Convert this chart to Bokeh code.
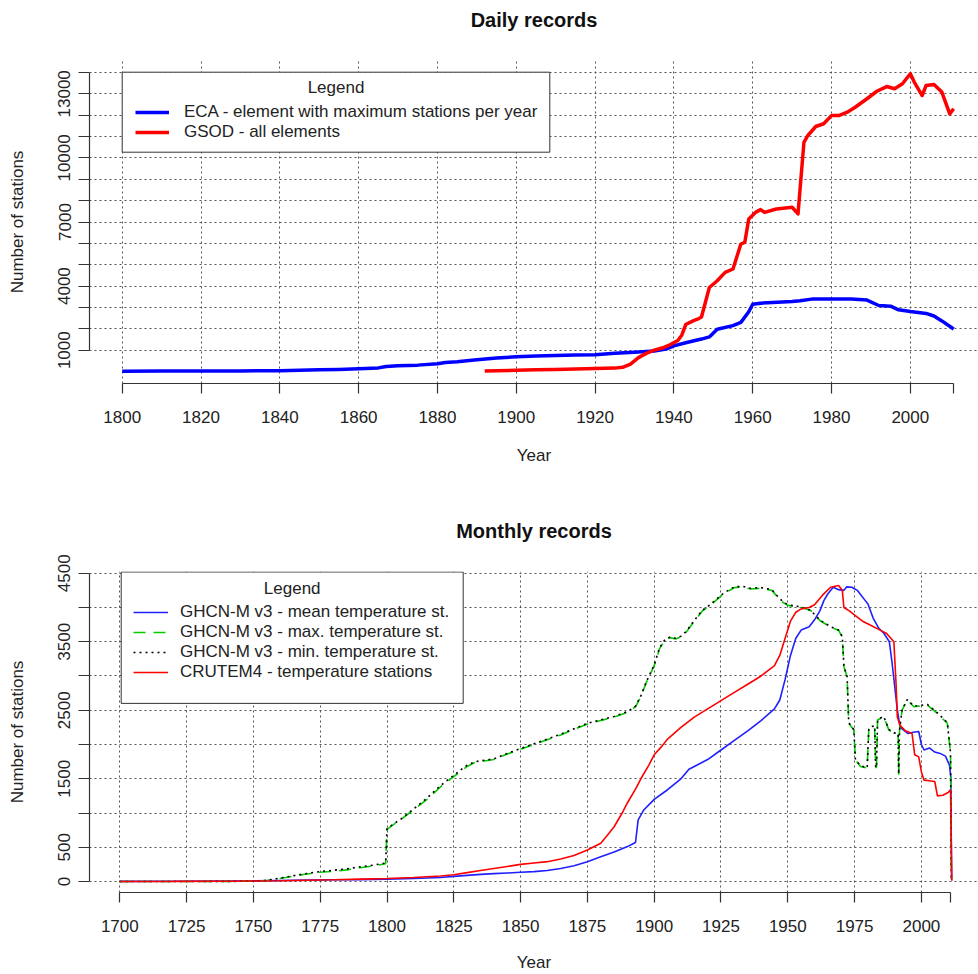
from bokeh.plotting import figure
from bokeh.models import (Range1d, FixedTicker, Legend, LegendItem, BoxAnnotation, Label,
                          LinearAxis)
from bokeh.layouts import column
from bokeh.embed import file_html
from bokeh.resources import INLINE

FONT = "Liberation Sans"

# ---------------- Daily records ----------------
eca_year = [1800, 1810, 1820, 1830, 1840, 1845, 1850, 1855, 1860, 1865, 1867, 1870, 1875, 1880,
            1882, 1885, 1890, 1895, 1900, 1905, 1910, 1915, 1920, 1925, 1930, 1935, 1938, 1940,
            1943, 1947, 1949, 1951, 1955, 1957, 1959, 1960, 1962, 1965, 1970, 1972, 1975, 1980,
            1985, 1989, 1992, 1995, 1997, 2000, 2004, 2006, 2008, 2011]
eca_val = [15, 20, 25, 30, 40, 55, 80, 100, 130, 170, 240, 270, 300, 360,
           420, 460, 550, 630, 690, 730, 750, 770, 790, 860, 900, 960, 1050, 1200,
           1350, 1520, 1620, 1980, 2150, 2300, 2800, 3150, 3200, 3230, 3280, 3310, 3390, 3400,
           3390, 3345, 3090, 3060, 2890, 2810, 2720, 2600, 2370, 1990]

gsod_year = [1892, 1895, 1900, 1905, 1910, 1915, 1920, 1925, 1927, 1929, 1931, 1933, 1935, 1937,
             1939, 1941, 1942, 1943, 1945, 1946, 1947, 1949, 1951, 1953, 1955, 1957, 1958, 1959,
             1960.7, 1962, 1963, 1966, 1970, 1971.5, 1973, 1974, 1976, 1978, 1980, 1982, 1984,
             1986, 1989, 1991.5, 1994, 1996, 1998, 2000, 2001, 2003, 2004, 2006, 2008, 2010, 2011]
gsod_val = [30, 40, 60, 80, 100, 120, 140, 160, 200, 350, 650, 850, 1000, 1100,
            1250, 1450, 1700, 2200, 2380, 2450, 2550, 3935, 4250, 4640, 4800, 5970, 6050, 7140,
            7450, 7580, 7450, 7610, 7690, 7380, 10730, 11050, 11470, 11600, 11980, 11990, 12140,
            12370, 12770, 13120, 13340, 13240, 13470, 13940, 13550, 12920, 13390, 13440, 13080, 12060, 12300]

daily_xticks = [1800, 1820, 1840, 1860, 1880, 1900, 1920, 1940, 1960, 1980, 2000, 2011]
daily_yticks = [1000, 2000, 3000, 4000, 5000, 6000, 7000, 8000, 9000, 10000, 11000, 12000, 13000, 14000]
daily_ylabels = [1000, 4000, 7000, 10000, 13000]

# ---------------- Monthly records ----------------
mean_year = [1700, 1720, 1740, 1750, 1760, 1770, 1780, 1790, 1800, 1810, 1820, 1825, 1830, 1835,
             1840, 1845, 1850, 1855, 1860, 1865, 1870, 1875, 1880, 1885, 1890, 1893, 1894, 1896,
             1900, 1905, 1910, 1913, 1915, 1920, 1925, 1930, 1935, 1940, 1945, 1947, 1949, 1951,
             1953, 1955, 1958, 1960, 1962, 1963.5, 1965, 1967, 1969, 1971, 1972, 1974, 1976, 1977,
             1979, 1980, 1982, 1984, 1986, 1988, 1989, 1990, 1991, 1992, 1993, 1995, 1997, 1999,
             2000, 2001, 2003, 2005, 2007, 2009, 2010.5, 2011, 2011.3]
mean_val = [3, 5, 8, 10, 15, 20, 25, 28, 35, 45, 60, 75, 90, 105,
            115, 125, 135, 145, 160, 190, 230, 290, 360, 430, 510, 570, 900, 1040,
            1200, 1340, 1500, 1640, 1680, 1780, 1920, 2060, 2200, 2350, 2520, 2650, 2950, 3300,
            3550, 3670, 3720, 3820, 3950, 4100, 4200, 4295, 4260, 4250, 4300, 4295, 4250, 4200,
            4100, 4050, 3840, 3700, 3620, 3500, 3200, 2850, 2500, 2260, 2220, 2160, 2180, 2190,
            2000, 1920, 1950, 1890, 1870, 1830, 1700, 1530, 30]

max_year = [1700, 1740, 1750, 1755, 1760, 1765, 1770, 1775, 1780, 1785, 1790, 1795, 1799.5, 1800,
            1802, 1805, 1810, 1815, 1820, 1825, 1830, 1833, 1840, 1845, 1850, 1855, 1860, 1865,
            1870, 1875, 1880, 1885, 1890, 1893, 1895, 1897, 1900, 1902, 1904, 1906, 1908, 1910,
            1912, 1915, 1918, 1920, 1923, 1926, 1930, 1933, 1936, 1940, 1944, 1946, 1948, 1950,
            1954.7, 1958.5, 1962, 1966, 1969, 1970.4, 1971, 1972.2, 1972.8, 1974.7, 1975.3, 1977.2,
            1979.7, 1980.3, 1981, 1982.5, 1982.9, 1983.2, 1983.6, 1985.9, 1987.8, 1989.7, 1991.3,
            1991.5, 1991.8, 1992.8, 1994.7, 1997.2, 2002.2, 2005.9, 2009.7, 2010.9, 2011.2]
max_val = [0, 2, 5, 15, 45, 80, 110, 135, 150, 170, 200, 230, 260, 760,
           820, 900, 1050, 1200, 1380, 1530, 1680, 1740, 1780, 1860, 1930, 2000, 2070, 2140,
           2220, 2300, 2350, 2400, 2470, 2550, 2700, 2900, 3150, 3400, 3520, 3560, 3540, 3570,
           3640, 3800, 3950, 4000, 4100, 4200, 4290, 4300, 4270, 4280, 4250, 4160, 4080, 4030,
           4005, 3957, 3810, 3714, 3666, 3569, 3133, 2987, 2310, 2213, 1777, 1680,
           1656, 2213, 2250, 2261, 1656, 1680, 2358, 2406, 2213, 2165, 2150,
           1559, 2200, 2504, 2649, 2551, 2576, 2456, 2310, 1874, 33]
min_val = [0, 2, 5, 18, 50, 85, 118, 145, 165, 185, 215, 240, 270, 770,
           830, 905, 1060, 1220, 1400, 1550, 1700, 1750, 1790, 1870, 1940, 2010, 2080, 2150,
           2230, 2310, 2360, 2410, 2480, 2560, 2710, 2910, 3160, 3410, 3530, 3570, 3550, 3580,
           3650, 3810, 3960, 4010, 4110, 4210, 4300, 4310, 4280, 4290, 4260, 4170, 4090, 4040,
           4010, 3960, 3815, 3720, 3670, 3575, 3140, 2990, 2320, 2220, 1780, 1690,
           1660, 2220, 2260, 2270, 1660, 1690, 2365, 2410, 2220, 2170, 2160,
           1565, 2210, 2510, 2655, 2560, 2585, 2465, 2320, 1880, 30]

cru_year = [1700, 1720, 1740, 1750, 1760, 1770, 1780, 1790, 1800, 1810, 1820, 1825, 1830, 1835,
            1840, 1845, 1850, 1855, 1860, 1865, 1870, 1875, 1880, 1883, 1885, 1888, 1890, 1893,
            1895, 1898, 1900, 1903, 1905, 1910, 1915, 1920, 1925, 1930, 1935, 1940, 1945, 1947,
            1949, 1951, 1953, 1955, 1958, 1960, 1963, 1966, 1969, 1970.4, 1971, 1973, 1976, 1978,
            1981, 1984, 1987, 1989.7, 1990.5, 1991, 1992, 1994, 1996.5, 1997.5, 1999, 2000, 2001,
            2003, 2005, 2006, 2008, 2010, 2010.9, 2011.4]
cru_val = [0, 2, 5, 8, 12, 18, 25, 35, 45, 60, 80, 100, 130, 160,
           190, 220, 250, 270, 290, 330, 380, 460, 560, 700, 800, 1000, 1150, 1350,
           1500, 1700, 1850, 1980, 2080, 2250, 2400, 2520, 2640, 2760, 2880, 3000, 3150, 3300,
           3550, 3800, 3930, 3980, 4000, 4040, 4180, 4295, 4320, 4250, 4000, 3950, 3860, 3800,
           3740, 3680, 3620, 3500, 2900, 2400, 2280, 2200, 2160, 1850, 1820, 1600, 1480,
           1470, 1460, 1250, 1260, 1300, 1340, 10]

monthly_xticks = [1700, 1725, 1750, 1775, 1800, 1825, 1850, 1875, 1900, 1925, 1950, 1975, 2000, 2011]
monthly_yticks = [0, 500, 1000, 1500, 2000, 2500, 3000, 3500, 4000, 4500]
monthly_ylabels = [0, 500, 1500, 2500, 3500, 4500]

# ---------------- layout constants (pixels) ----------------
FRAME_L, FRAME_R = 89, 978
H1, H2 = 472, 502
F1_TOP, F1_BOT = 60, 383          # frame of first plot (page px)
F2_TOP, F2_BOT = 571, 893         # frame of second plot (page px)
X1_RANGE, Y1_RANGE = (1791.7, 2017.3), (-560, 14560)
X2_RANGE, Y2_RANGE = (1688.66, 2021.37), (-160, 4525)


def px_to_data(px, py, ftop, fbot, xr, yr):
    x = xr[0] + (px - FRAME_L) * (xr[1] - xr[0]) / (FRAME_R - FRAME_L)
    y = yr[1] - (py - ftop) * (yr[1] - yr[0]) / (fbot - ftop)
    return x, y


def make_fig(title, title_standoff, height, top, bottom, xr, yr, xticks, yticks, ylabels,
             label_standoff, xlabel_standoff):
    p = figure(width=978, height=height, output_backend="svg", toolbar_location=None,
               x_range=Range1d(*xr), y_range=Range1d(*yr),
               min_border_left=FRAME_L, min_border_right=0, min_border_top=top,
               min_border_bottom=bottom)
    p.outline_line_color = None
    p.background_fill_color = "white"
    p.border_fill_color = "white"
    xa = p.below[0]
    ya = p.left[0]
    for ax in (xa, ya):
        ax.axis_line_color = "#333333"
        ax.axis_line_width = 1.2
        ax.major_tick_line_color = "#333333"
        ax.major_tick_line_width = 1.2
        ax.major_tick_in = 0
        ax.minor_tick_line_color = None
        ax.major_label_text_font = FONT
        ax.major_label_text_font_size = "17px"
        ax.major_label_text_color = "#222222"
        ax.axis_label_text_font = FONT
        ax.axis_label_text_font_size = "17px"
        ax.axis_label_text_font_style = "normal"
        ax.axis_label_text_color = "#222222"
    xa.ticker = FixedTicker(ticks=xticks)
    xa.major_label_overrides = {xticks[-1]: ""}
    xa.bounds = (xticks[0], xticks[-1])
    xa.major_tick_out = 10
    xa.major_label_standoff = label_standoff
    xa.axis_label = "Year"
    xa.axis_label_standoff = xlabel_standoff
    ya.ticker = FixedTicker(ticks=yticks)
    ya.major_label_overrides = {t: ("" if t not in ylabels else str(t)) for t in yticks}
    ya.bounds = (yticks[0], yticks[-1])
    ya.major_tick_out = 11
    ya.major_label_orientation = "vertical"
    ya.major_label_standoff = 8
    ya.axis_label = "Number of stations"
    ya.axis_label_standoff = 29
    p.xgrid.ticker = FixedTicker(ticks=xticks[:-1])
    p.ygrid.ticker = FixedTicker(ticks=yticks)
    for g in (p.xgrid[0], p.ygrid[0]):
        g.grid_line_color = "#555555"
        g.grid_line_dash = "2 3"
        g.grid_line_width = 1
    # main title: drawn as the label of a bare axis above the frame
    title_axis = LinearAxis(ticker=FixedTicker(ticks=[]), axis_label=title,
                            axis_line_color=None, major_tick_line_color=None,
                            minor_tick_line_color=None, major_label_text_font_size="0px",
                            major_tick_out=0, major_tick_in=0, major_label_standoff=0,
                            axis_label_standoff=title_standoff,
                            axis_label_text_font=FONT, axis_label_text_font_size="20px",
                            axis_label_text_font_style="bold", axis_label_text_color="#111111")
    p.add_layout(title_axis, "above")
    return p


def add_legend(p, items, box_px, title_px, loc, glyph_w, standoff, ftop, fbot, xr, yr):
    l, t = px_to_data(box_px[0], box_px[1], ftop, fbot, xr, yr)
    r, b = px_to_data(box_px[2], box_px[3], ftop, fbot, xr, yr)
    p.add_layout(BoxAnnotation(left=l, right=r, top=t, bottom=b, fill_color="white",
                               fill_alpha=1.0, line_color="#333333", line_width=1, line_alpha=1.0))
    tx, ty = px_to_data(title_px[0], title_px[1], ftop, fbot, xr, yr)
    p.add_layout(Label(x=tx, y=ty, text="Legend", text_align="center", text_baseline="middle",
                       text_font=FONT, text_font_size="17px", text_color="#222222"))
    leg = Legend(items=items, location=loc, margin=0, padding=0, spacing=0,
                 glyph_width=glyph_w, glyph_height=20, label_height=20, label_standoff=standoff,
                 border_line_color=None, background_fill_alpha=0.0)
    leg.label_text_font = FONT
    leg.label_text_font_size = "17px"
    leg.label_text_color = "#222222"
    p.add_layout(leg)


# Daily
p1 = make_fig("Daily records", 30, H1, F1_TOP, H1 - F1_BOT,
              X1_RANGE, Y1_RANGE, daily_xticks, daily_yticks, daily_ylabels, 17, 20)
r_eca = p1.line(eca_year, eca_val, line_color="#0000FF", line_width=3.5, line_join="round")
r_gsod = p1.line(gsod_year, gsod_val, line_color="#FF0000", line_width=3.5, line_join="round")
add_legend(p1, [LegendItem(label="ECA - element with maximum stations per year", renderers=[r_eca]),
                LegendItem(label="GSOD - all elements", renderers=[r_gsod])],
           (121.7, 71.7, 549.3, 151.7), (335.5, 86.7), (46, 241), 34, 15,
           F1_TOP, F1_BOT, X1_RANGE, Y1_RANGE)

# Monthly
p2 = make_fig("Monthly records", 30, H2, F2_TOP - H1, H2 - (F2_BOT - H1),
              X2_RANGE, Y2_RANGE, monthly_xticks, monthly_yticks, monthly_ylabels, 17, 18)
r_mean = p2.line(mean_year, mean_val, line_color="#2020FF", line_width=1.6)
r_max = p2.line(max_year, max_val, line_color="#00CC00", line_width=1.6, line_dash="12 8")
r_min = p2.line(max_year, min_val, line_color="#000000", line_width=1.6, line_dash="2 4")
r_cru = p2.line(cru_year, cru_val, line_color="#FF0000", line_width=1.6)
add_legend(p2, [LegendItem(label="GHCN-M v3 - mean temperature st.", renderers=[r_mean]),
                LegendItem(label="GHCN-M v3 - max. temperature st.", renderers=[r_max]),
                LegendItem(label="GHCN-M v3 - min. temperature st.", renderers=[r_min]),
                LegendItem(label="CRUTEM4 - temperature stations", renderers=[r_cru])],
           (120.7, 571.5, 462.7, 703.3), (291.7, 588.3), (44, 210), 35, 12,
           F2_TOP, F2_BOT, X2_RANGE, Y2_RANGE)

layout = column(p1, p2, spacing=0)
open("out.html", "w").write(file_html(layout, INLINE))
